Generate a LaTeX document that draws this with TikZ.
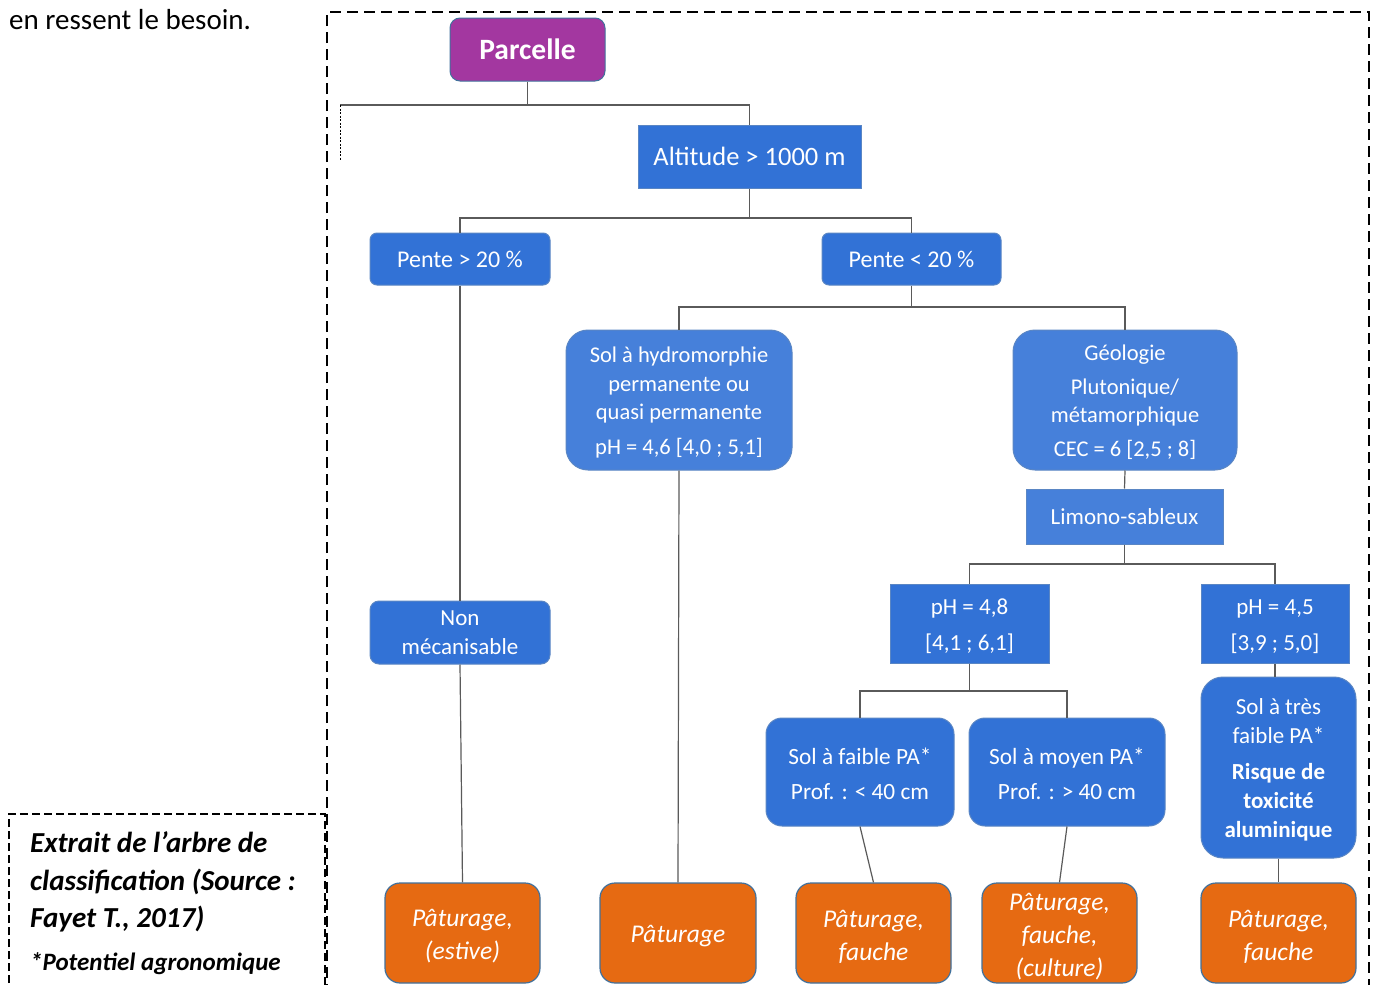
\documentclass[tikz,border=0pt]{standalone}
\usepackage{fontspec}
\setmainfont{Carlito}
\definecolor{purp}{RGB}{163,55,160}
\definecolor{bdark}{RGB}{50,114,214}
\definecolor{blight}{RGB}{70,128,218}
\definecolor{orng}{RGB}{230,106,18}
\definecolor{bord}{RGB}{65,113,156}
\definecolor{bordb}{RGB}{90,134,196}
\definecolor{linecol}{RGB}{90,90,90}
\newcommand{\lw}{\rule{0pt}{0.9em}}
\newcommand{\lo}{\rule{0pt}{0.95em}}
\tikzset{
  box/.style={draw=bordb, line width=1pt, text=white, inner sep=0pt, align=center, font=\fontsize{23}{29}\selectfont},
  sz/.style 2 args={minimum width=#1pt, minimum height=#2pt},
  darkbox/.style={box, fill=bdark},
  lightbox/.style={box, fill=blight},
  leaf/.style={box, draw=bord, line width=1.2pt, fill=orng, rounded corners=15pt, font=\fontsize{25.5}{33}\selectfont\itshape},
  conn/.style={draw=linecol, line width=1.2pt},
  frame/.style={draw=black, line width=2.6pt, dash pattern=on 11pt off 6pt},
  capframe/.style={draw=black, line width=1.3pt, dash pattern=on 8pt off 4pt},
  captxt/.style={anchor=base west, inner sep=0pt, font=\fontsize{29}{33}\selectfont\bfseries\itshape}
}
\begin{document}
\begin{tikzpicture}[x=1pt,y=-1pt]
\useasboundingbox (0,0) rectangle (1377,985);
\fill[white] (0,0) rectangle (1377,985);

% frames
\draw[frame] (327,995) -- (327,12) -- (1369,12) -- (1369,995);
\draw[capframe] (9,995) -- (9,814) -- (325,814) -- (325,995);

% top-left text
\node[anchor=base west, inner sep=0pt, font=\fontsize{29}{33}\selectfont] (intro) at (9,29) {en ressent le besoin.};

% caption
\node[captxt] (cap1) at (30,852) {Extrait de l’arbre de};
\node[captxt] (cap2) at (30,890) {classification (Source :};
\node[captxt] (cap3) at (30,927) {Fayet T., 2017)};
\node[captxt, font=\fontsize{25}{29}\selectfont\bfseries\itshape] (cap4) at (30,970) {*Potentiel agronomique};

% nodes
\node[box, fill=purp, draw=bord, rounded corners=10pt, sz={155}{63}, font=\fontsize{29.5}{34}\selectfont\bfseries] (parc) at (527.5,49.5) {Parcelle};
\node[darkbox, sz={223}{63}, font=\fontsize{26.5}{30}\selectfont] (alt) at (749.5,156.5) {Altitude > 1000 m};
\node[darkbox, rounded corners=7pt, sz={180}{52}, font=\fontsize{24}{29}\selectfont] (p1) at (460,259) {Pente > 20 \%};
\node[darkbox, rounded corners=7pt, sz={179}{52}, font=\fontsize{24}{29}\selectfont] (p2) at (911.5,259) {Pente < 20 \%};
\node[lightbox, rounded corners=22pt, sz={226}{140}, font=\fontsize{22.5}{28.5}\selectfont] (hydro) at (679,400) {\lw Sol à hydromorphie\\ permanente ou\\ quasi permanente\\[6pt] pH = 4,6 [4,0 ; 5,1]};
\node[lightbox, rounded corners=22pt, sz={224}{140}, font=\fontsize{22.5}{28.5}\selectfont] (geo) at (1125,400) {\lw Géologie\\[5pt] Plutonique/\\ métamorphique\\[5pt] CEC = 6 [2,5 ; 8]};
\node[lightbox, sz={197}{55}] (limo) at (1124.5,516.5) {Limono-sableux};
\node[darkbox, sz={159}{79}, font=\fontsize{23}{36}\selectfont] (ph48) at (969.5,623.5) {\lw pH = 4,8\\ {[4,1 ; 6,1]}};
\node[darkbox, sz={148}{79}, font=\fontsize{23}{36}\selectfont] (ph45) at (1275,623.5) {\lw pH = 4,5\\ {[3,9 ; 5,0]}};
\node[darkbox, rounded corners=9pt, sz={180}{63}] (nonm) at (460,632.5) {Non\\ mécanisable};
\node[darkbox, rounded corners=16pt, sz={188}{108}, font=\fontsize{23.3}{35}\selectfont] (faible) at (860,772) {\lw Sol à faible PA*\\ Prof. : < 40 cm};
\node[darkbox, rounded corners=16pt, sz={196}{108}, font=\fontsize{23.3}{35}\selectfont] (moyen) at (1067,772) {\lw Sol à moyen PA*\\ Prof. : > 40 cm};
\node[darkbox, rounded corners=22pt, sz={155}{181}] (tres) at (1278.5,767.5) {\lw Sol à très\\ faible PA*\\[7pt] \textbf{Risque de}\\ \textbf{toxicité}\\ \textbf{aluminique}};

\node[leaf, sz={155}{100}] (o1) at (462.5,933) {\lo Pâturage,\\ (estive)};
\node[leaf, sz={156}{100}] (o2) at (678,933) {\lo Pâturage};
\node[leaf, sz={155}{100}] (o3) at (873.5,933) {\lo Pâturage,\\ fauche};
\node[leaf, sz={155}{100}] (o4) at (1059.5,933) {\lo Pâturage,\\ fauche,\\ (culture)};
\node[leaf, sz={155}{100}] (o5) at (1278.5,933) {\lo Pâturage,\\ fauche};

% junction coordinates
\coordinate (j0) at (527.5,105);
\coordinate (lft) at (340,105);
\coordinate (lftend) at (340,160);
\coordinate (j1) at (749.5,218);
\coordinate (j2) at (911.5,307);
\coordinate (j3) at (1124.5,564);
\coordinate (j4) at (969.5,691);

% connectors
\draw[conn] (parc.south) -- (j0);
\draw[conn] (lft) -- (j0) -| (alt.north);
\draw[draw=black, line width=0.8pt, dash pattern=on 2pt off 1.5pt] (lft) -- (lftend);
\draw[conn] (alt.south) -- (j1);
\draw[conn] (p1.north) |- (j1) -| (p2.north);
\draw[conn] (p1.south) -- (nonm.north);
\draw[conn] (nonm.south) -- (o1.north);
\draw[conn] (p2.south) -- (j2);
\draw[conn] (hydro.north) |- (j2) -| (geo.north);
\draw[conn] (hydro.south) -- (o2.north);
\draw[conn] (geo.south) -- (limo.north);
\draw[conn] (limo.south) -- (j3);
\draw[conn] (ph48.north) |- (j3) -| (ph45.north);
\draw[conn] (ph48.south) -- (j4);
\draw[conn] (faible.north) |- (j4) -| (moyen.north);
\draw[conn] (faible.south) -- (o3.north);
\draw[conn] (moyen.south) -- (o4.north);
\draw[conn] (ph45.south) -- (ph45.south |- tres.north);
\draw[conn] (tres.south) -- (o5.north);
\end{tikzpicture}
\end{document}
